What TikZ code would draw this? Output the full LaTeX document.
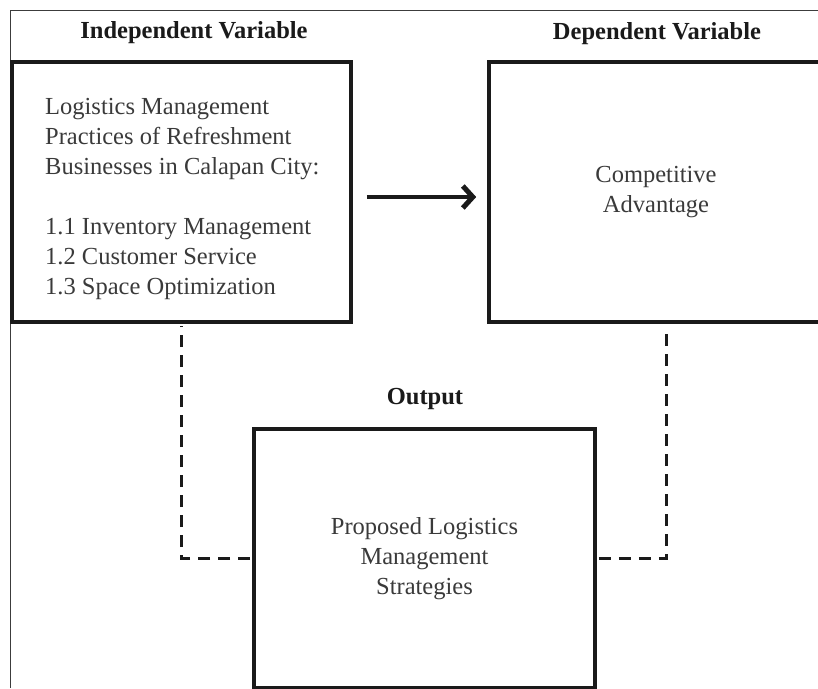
\documentclass[tikz,border=0pt]{standalone}
\usepackage{fontspec}
\setmainfont{Liberation Serif}
\usetikzlibrary{arrows.meta}
\definecolor{ink}{HTML}{1A1A1A}
\definecolor{txt}{HTML}{3A3A3A}
\begin{document}
\begin{tikzpicture}[x=1pt,y=-1pt,
  box/.style={draw=ink,line width=3.6pt,rectangle,inner sep=0pt},
  head/.style={font=\fontsize{24.5pt}{30pt}\selectfont\bfseries,text=ink,inner sep=0pt},
  body/.style={font=\fontsize{24.5pt}{30pt}\selectfont,text=txt,inner sep=0pt},
  dashlink/.style={draw=ink,line width=3pt,dash pattern=on 12pt off 8pt},
  mainarrow/.style={draw=ink,line width=4pt,-{Straight Barb[length=10pt,width=22pt,line width=5pt]}}]
\useasboundingbox (0,0) rectangle (818,688);
\clip (0,0) rectangle (818,688);
\fill[white] (0,0) rectangle (818,688);
% outer frame
\draw[draw=ink!85,line width=1.2pt] (10.5,688) -- (10.5,10.5) -- (818,10.5);
% boxes
\node[box,minimum width=339pt,minimum height=260pt] (ind) at (181.5,192) {};
\node[box,minimum width=354pt,minimum height=260pt] (dep) at (666,192) {};
\node[box,minimum width=341pt,minimum height=259pt] (out) at (424.5,558.5) {};
% headings
\node[head] (indh) at (194,33) {Independent Variable};
\node[head] (deph) at (657,34) {Dependent Variable};
\node[head] (outh) at (425,399) {Output};
% box texts
\node[body,align=left,anchor=west] (indt) at (45,199) {Logistics Management\\Practices of Refreshment\\Businesses in Calapan City:\\[30pt]1.1 Inventory Management\\1.2 Customer Service\\1.3 Space Optimization};
\node[body,align=center] (dept) at (656,192) {Competitive\\Advantage};
\node[body,align=center] (outt) at (424.5,558.5) {Proposed Logistics\\Management\\Strategies};
% connectors
\draw[mainarrow] ([xshift=14pt,yshift=-5pt]ind.east) -- ([xshift=-11pt,yshift=-5pt]dep.west);
\draw[dashlink] ([xshift=-2pt]out.west) -| ([yshift=-2pt]ind.south);
\draw[dashlink] ([xshift=2pt]out.east) -| ([yshift=-2pt]dep.south);
\end{tikzpicture}
\end{document}
